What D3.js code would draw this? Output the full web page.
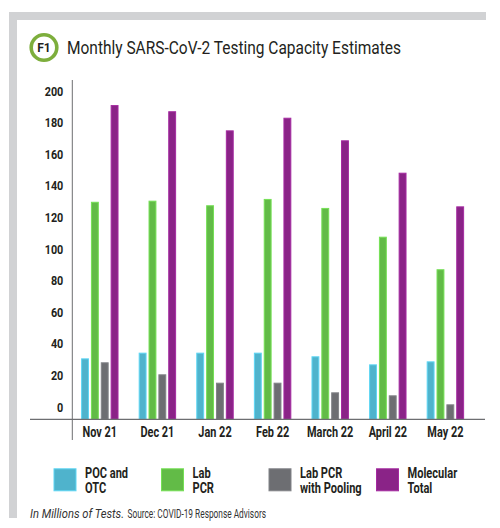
<!DOCTYPE html>
<html>
<head>
    <title>Monthly SARS-CoV-2 Testing Capacity Estimates</title>
    <meta charset="UTF-8">
    <script src="https://d3js.org/d3.v7.min.js"></script>
    <style>
      body { margin: 0; background: #fff; }
      text { font-family: Roboto, "Liberation Sans", sans-serif; }
    </style>
</head>
<body>
<div id="my_dataviz"></div>
<script>
// data (millions of tests)
var months = ["Nov 21", "Dec 21", "Jan 22", "Feb 22", "March 22", "April 22", "May 22"];
var pocOtc = [30.6, 34.2, 34.2, 34.2, 31.9, 26.8, 28.7];
var labPcr = [129.7, 130.4, 127.5, 131.5, 125.8, 107.6, 87.0];
var labPcrPooling = [28.1, 20.5, 15.2, 15.2, 9.1, 7.2, 1.5];
var molecularTotal = [190.9, 187.0, 174.9, 182.9, 168.6, 148.1, 126.8];
var yTicks = [0, 20, 40, 60, 80, 100, 120, 140, 160, 180, 200];

var seriesNames = [["POC and", "OTC"], ["Lab", "PCR"], ["Lab PCR", "with Pooling"], ["Molecular", "Total"]];
var seriesValues = [pocOtc, labPcr, labPcrPooling, molecularTotal];
var colors = ["#4fb3cc", "#62bb47", "#6d6e72", "#8a2387"];

var width = 500, height = 528;

// the original uses a condensed face; squeeze the installed one to match
function condense(sel, k) {
  sel.each(function() {
    var w = this.getComputedTextLength();
    d3.select(this).attr("textLength", w * k).attr("lengthAdjust", "spacingAndGlyphs");
  });
}

var svg = d3.select("#my_dataviz")
  .append("svg")
    .attr("width", width)
    .attr("height", height);

// grey frame (top and left bands)
svg.append("rect").attr("x", 9).attr("y", 12).attr("width", 477).attr("height", 8).attr("fill", "#d1d2d4");
svg.append("rect").attr("x", 9).attr("y", 12).attr("width", 8).attr("height", 506).attr("fill", "#d1d2d4");

// title badge
svg.append("circle")
  .attr("cx", 44).attr("cy", 47.5).attr("r", 12.8)
  .attr("fill", "#fff").attr("stroke", "#7dae3c").attr("stroke-width", 3.6);
svg.append("text")
  .attr("x", 44).attr("y", 51.8)
  .attr("text-anchor", "middle")
  .attr("font-size", 12).attr("font-weight", "bold").attr("fill", "#231f20")
  .text("F1");
svg.append("text")
  .attr("x", 67).attr("y", 54)
  .attr("font-size", 19).attr("fill", "#231f20")
  .attr("textLength", 334).attr("lengthAdjust", "spacingAndGlyphs")
  .text("Monthly SARS-CoV-2 Testing Capacity Estimates");

// scales
var y = d3.scaleLinear()
  .domain([0, 200])
  .range([406.7, 90.7]);
var baseY = y(0) + 12.6; // bars run down to the axis line, below the "0" label

var x0 = d3.scaleBand()
  .domain(months)
  .range([71, 474.2])
  .paddingInner(0.35)
  .paddingOuter(0.175);

var x1 = d3.scaleBand()
  .domain(d3.range(seriesValues.length))
  .range([0, x0.bandwidth()])
  .paddingInner(0.2);

// Y axis labels
var yAxis = svg.append("g")
  .attr("transform", "translate(72.3,0)")
  .call(d3.axisLeft(y).tickValues(yTicks).tickSize(0).tickPadding(9));
yAxis.select(".domain").remove();
yAxis.selectAll("text")
  .attr("font-size", 13.5).attr("font-weight", "bold").attr("fill", "#231f20")
  .style("font-family", "Roboto, sans-serif")
  .call(condense, 0.8);

// X axis labels
var xAxis = svg.append("g")
  .attr("transform", "translate(0," + baseY + ")")
  .call(d3.axisBottom(x0).tickSize(0).tickPadding(8));
xAxis.select(".domain").remove();
xAxis.selectAll("text")
  .attr("font-size", 14).attr("font-weight", "bold").attr("fill", "#231f20")
  .style("font-family", "Roboto, sans-serif")
  .call(condense, 0.78);

// bars
var groups = svg.append("g")
  .selectAll("g")
  .data(months)
  .enter()
  .append("g")
    .attr("transform", function(d) { return "translate(" + x0(d) + ",0)"; });

groups.selectAll("rect")
  .data(function(d, i) { return seriesValues.map(function(s, k) { return {k: k, value: s[i]}; }); })
  .enter()
  .append("rect")
    .attr("x", function(d) { return x1(d.k) + 0.5; })
    .attr("y", function(d) { return y(d.value) + 0.5; })
    .attr("width", x1.bandwidth() - 1)
    .attr("height", function(d) { return baseY - y(d.value) - 0.5; })
    .attr("fill", function(d) { return colors[d.k]; })
    .attr("stroke", function(d) { return d3.color(colors[d.k]).brighter(0.5); })
    .attr("stroke-width", 1);

// axis lines
svg.append("line")
  .attr("x1", 72.3).attr("x2", 72.3).attr("y1", 80).attr("y2", 440)
  .attr("stroke", "#6d6e71").attr("stroke-width", 1);
svg.append("line")
  .attr("x1", 30).attr("x2", 485).attr("y1", baseY).attr("y2", baseY)
  .attr("stroke", "#6d6e71").attr("stroke-width", 1.2);

// legend
var legend = svg.append("g")
  .selectAll("g")
  .data(seriesNames)
  .enter()
  .append("g")
    .attr("transform", function(d, i) { return "translate(" + (53.5 + i * 107.5) + ",468.3)"; });

legend.append("rect")
  .attr("x", 0.5).attr("y", 0.5)
  .attr("width", 22).attr("height", 22)
  .attr("fill", function(d, i) { return colors[i]; })
  .attr("stroke", function(d, i) { return d3.color(colors[i]).brighter(0.5); })
  .attr("stroke-width", 1);

legend.append("text")
  .attr("x", 31.5).attr("y", 9.8)
  .attr("font-size", 14).attr("font-weight", "bold").attr("fill", "#231f20")
  .text(function(d) { return d[0]; })
  .call(condense, 0.79);
legend.append("text")
  .attr("x", 31.5).attr("y", 24.5)
  .attr("font-size", 14).attr("font-weight", "bold").attr("fill", "#231f20")
  .text(function(d) { return d[1]; })
  .call(condense, 0.79);

// footnote
svg.append("text")
  .attr("x", 30).attr("y", 517.5)
  .attr("font-size", 12.5).attr("font-style", "italic").attr("fill", "#333")
  .attr("textLength", 94).attr("lengthAdjust", "spacingAndGlyphs")
  .text("In Millions of Tests.");
svg.append("text")
  .attr("x", 127.5).attr("y", 517.5)
  .attr("font-size", 12.5).attr("fill", "#333")
  .attr("textLength", 138.5).attr("lengthAdjust", "spacingAndGlyphs")
  .text("Source: COVID-19 Response Advisors");
</script>
</body>
</html>
